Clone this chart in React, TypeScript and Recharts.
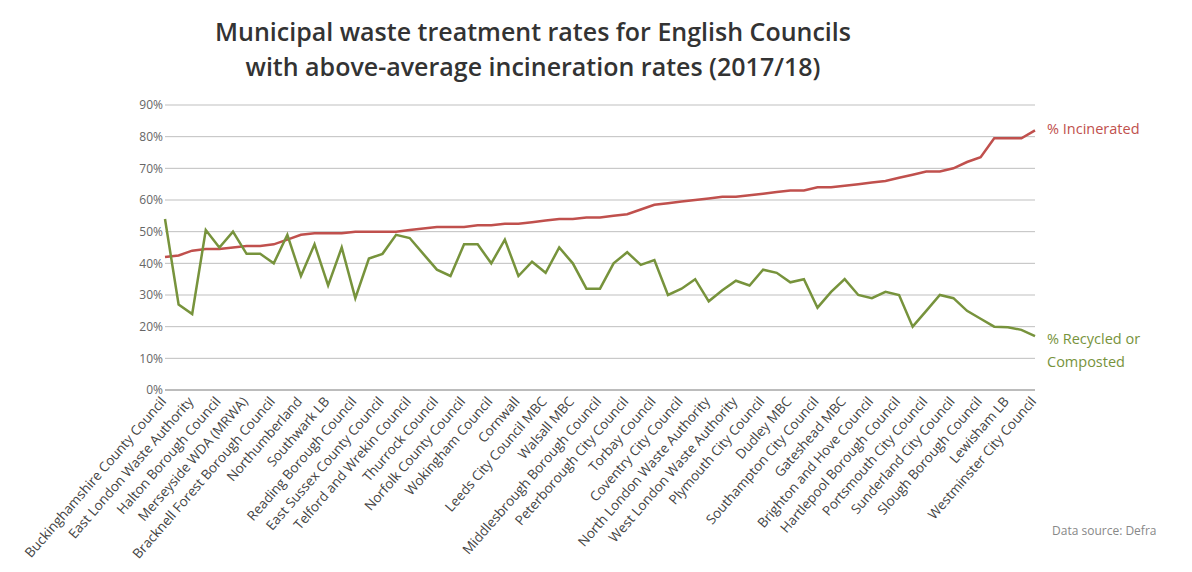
import React from 'react';
import { LineChart, Line, XAxis, YAxis, CartesianGrid } from 'recharts';

// every other council is labelled on the axis in the original chart
const labelledCouncils = [
  'Buckinghamshire County Council',
  'East London Waste Authority',
  'Halton Borough Council',
  'Merseyside WDA (MRWA)',
  'Bracknell Forest Borough Council',
  'Northumberland',
  'Southwark LB',
  'Reading Borough Council',
  'East Sussex County Council',
  'Telford and Wrekin Council',
  'Thurrock Council',
  'Norfolk County Council',
  'Wokingham Council',
  'Cornwall',
  'Leeds City Council MBC',
  'Walsall MBC',
  'Middlesbrough Borough Council',
  'Peterborough City Council',
  'Torbay Council',
  'Coventry City Council',
  'North London Waste Authority',
  'West London Waste Authority',
  'Plymouth City Council',
  'Dudley MBC',
  'Southampton City Council',
  'Gateshead MBC',
  'Brighton and Hove Council',
  'Hartlepool Borough Council',
  'Portsmouth City Council',
  'Sunderland City Council',
  'Slough Borough Council',
  'Lewisham LB',
  'Westminster City Council',
];

const incinerated = [
  42, 42.5, 44, 44.5, 44.5, 45, 45.5, 45.5, 46, 47.5,
  49, 49.5, 49.5, 49.5, 50, 50, 50, 50, 50.5, 51,
  51.5, 51.5, 51.5, 52, 52, 52.5, 52.5, 53, 53.5, 54,
  54, 54.5, 54.5, 55, 55.5, 57, 58.5, 59, 59.5, 60,
  60.5, 61, 61, 61.5, 62, 62.5, 63, 63, 64, 64,
  64.5, 65, 65.5, 66, 67, 68, 69, 69, 70, 72,
  73.5, 79.5, 79.5, 79.5, 82,
];

const recycled = [
  54, 27, 24, 50.5, 45, 50, 43, 43, 40, 49,
  36, 46, 33, 45, 29, 41.5, 43, 49, 48, 43,
  38, 36, 46, 46, 40, 47.5, 36, 40.5, 37, 45,
  40, 32, 32, 40, 43.5, 39.5, 41, 30, 32, 35,
  28, 31.5, 34.5, 33, 38, 37, 34, 35, 26, 31,
  35, 30, 29, 31, 30, 20, 25, 30, 29, 25,
  22.5, 20, 19.8, 19, 17,
];

const yTicks = [0, 10, 20, 30, 40, 50, 60, 70, 80, 90];

const data = incinerated.map((v, i) => ({
  name: i % 2 === 0 ? labelledCouncils[i / 2] : '',
  incinerated: v,
  recycled: recycled[i],
}));

const last = data.length - 1;
const RED = '#c0504d';
const GREEN = '#77933c';

const XTick = (props: any) => {
  const { x, y, payload } = props;
  return (
    <g transform={`translate(${x + 2},${y + 4})`}>
      <text
        textAnchor="end"
        transform="rotate(-49)"
        fontSize={13.5}
        fill="#444"
        fontFamily="'Open Sans', sans-serif"
      >
        {payload.value}
      </text>
    </g>
  );
};

const endLabel = (lines: string[], color: string, dy: number) => (props: any) => {
  if (props.index !== last) return null;
  return (
    <text x={props.x + 12} y={props.y + dy} fill={color} fontSize={14.5} fontFamily="'Open Sans', sans-serif">
      {lines.map((l, k) => (
        <tspan key={k} x={props.x + 12} dy={k === 0 ? 0 : 23}>
          {l}
        </tspan>
      ))}
    </text>
  );
};

export default function App() {
  return (
    <div style={{ position: 'relative', width: 1176, height: 556, fontFamily: "'Open Sans', sans-serif" }}>
      <div
        style={{
          position: 'absolute',
          left: 0,
          width: 1050,
          top: 6,
          textAlign: 'center',
          fontSize: 25,
          fontWeight: 600,
          lineHeight: '35px',
          color: '#333',
        }}
      >
        Municipal waste treatment rates for English Councils
        <br />
        with above-average incineration rates (2017/18)
      </div>
      <LineChart width={1176} height={556} data={data} margin={{ top: 97, right: 149, left: 97, bottom: 0 }}>
        <CartesianGrid vertical={false} stroke="#bfbfbf" />
        <XAxis
          dataKey="name"
          interval={1}
          height={174}
          tick={<XTick />}
          tickLine={false}
          axisLine={{ stroke: '#999' }}
        />
        <YAxis
          width={60}
          domain={[0, 90]}
          ticks={yTicks}
          tickFormatter={(v) => `${v}%`}
          axisLine={false}
          tickLine={false}
          tick={{ fontSize: 12, fill: '#666', dx: 6 }}
        />
        <Line
          type="linear"
          dataKey="incinerated"
          stroke={RED}
          strokeWidth={2.5}
          dot={false}
          isAnimationActive={false}
          label={endLabel(['% Incinerated'], RED, 4)}
        />
        <Line
          type="linear"
          dataKey="recycled"
          stroke={GREEN}
          strokeWidth={2.5}
          dot={false}
          isAnimationActive={false}
          label={endLabel(['% Recycled or', 'Composted'], GREEN, 8)}
        />
      </LineChart>
      <div style={{ position: 'absolute', left: 1044, top: 514, fontSize: 12, color: '#888' }}>
        Data source: Defra
      </div>
    </div>
  );
}
